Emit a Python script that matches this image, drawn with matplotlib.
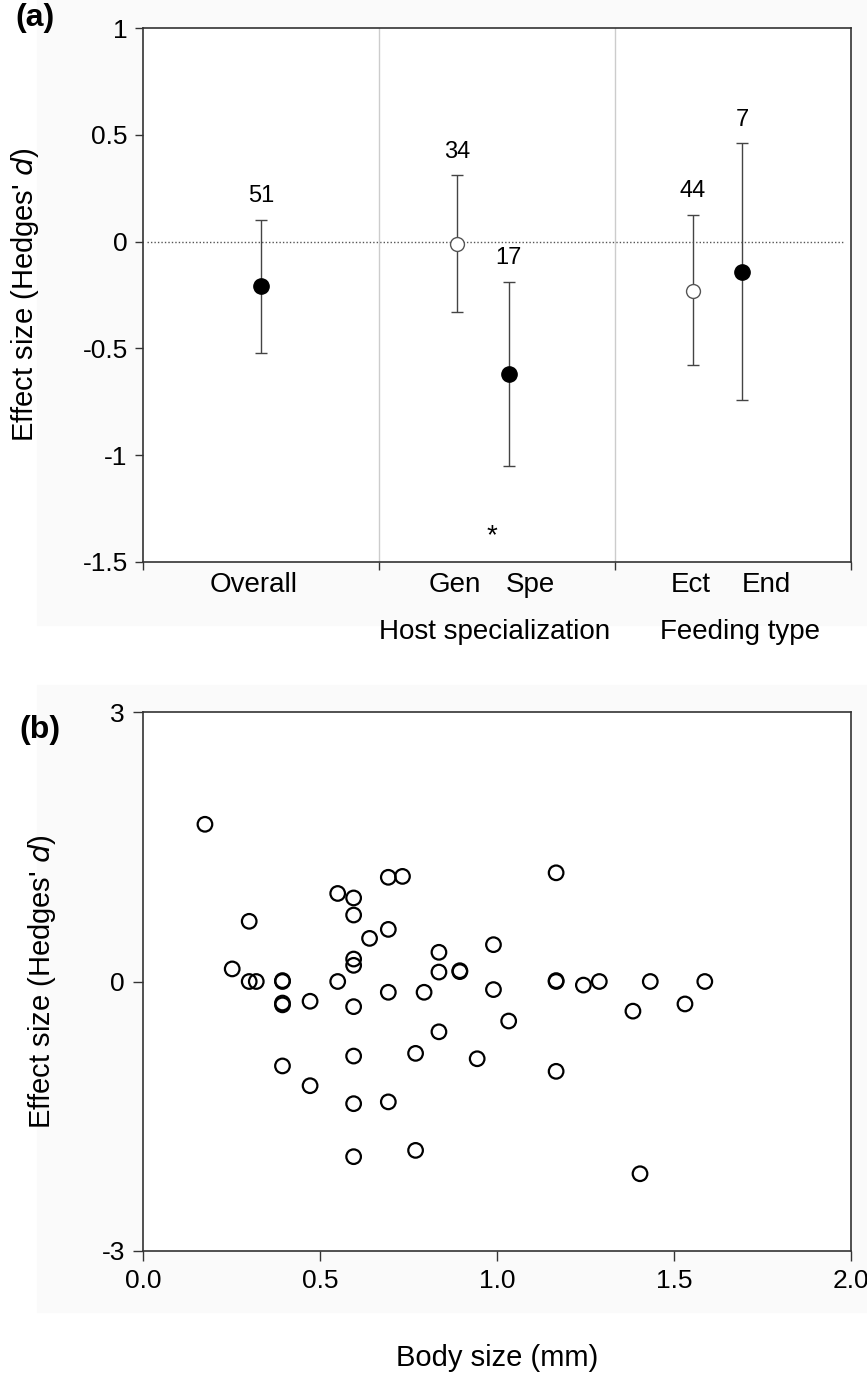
import matplotlib
matplotlib.use("Agg")
from matplotlib import pyplot
from matplotlib.patches import Rectangle

pyplot.rcParams["font.family"] = ["Liberation Sans", "DejaVu Sans"]

# panel (a): mean effect sizes with 95% CI
groups = ["Overall", "Gen", "Spe", "Ect", "End"]
group_x = [0.5, 1.33, 1.55, 2.33, 2.54]
means = [-0.21, -0.01, -0.62, -0.23, -0.14]
ci_upper = [0.10, 0.31, -0.19, 0.125, 0.46]
ci_lower = [-0.52, -0.33, -1.05, -0.58, -0.74]
n_studies = [51, 34, 17, 44, 7]
filled = [True, False, True, False, True]

# panel (b): effect size vs body size
body_size = [0.175, 0.693, 0.733, 0.55, 0.595, 0.595, 0.30, 0.693, 0.64, 0.99,
             0.836, 0.595, 0.595, 0.252, 0.836, 0.895, 0.895, 0.30, 0.32, 0.394,
             0.394, 0.55, 0.99, 0.693, 0.794, 0.394, 0.394, 0.472, 0.595, 0.836,
             0.77, 0.944, 0.595, 0.394, 0.472, 0.595, 0.693, 0.595, 0.77, 1.167,
             1.167, 1.167, 1.244, 1.289, 1.433, 1.587, 1.384, 1.531, 1.033, 1.167,
             1.404]
effect_size = [1.75, 1.16, 1.17, 0.98, 0.93, 0.74, 0.67, 0.58, 0.48, 0.41,
               0.325, 0.25, 0.18, 0.14, 0.105, 0.12, 0.11, 0.0, 0.0, 0.0,
               0.01, 0.0, -0.09, -0.12, -0.12, -0.24, -0.26, -0.22, -0.28, -0.56,
               -0.80, -0.86, -0.83, -0.94, -1.16, -1.36, -1.34, -1.95, -1.88, 1.21,
               0.0, 0.01, -0.04, 0.0, 0.0, 0.0, -0.33, -0.25, -0.44, -1.0,
               -2.14]

fig = pyplot.figure(figsize=(8.67, 13.76), dpi=100)

# faint panel backgrounds
fig.patches.append(Rectangle((37 / 867, 1 - 625 / 1376), 830 / 867, 625 / 1376,
                             transform=fig.transFigure, color="#fafafa", zorder=-10))
fig.patches.append(Rectangle((37 / 867, 1 - 1312 / 1376), 830 / 867, 627 / 1376,
                             transform=fig.transFigure, color="#fafafa", zorder=-10))

# ---- panel (a)
ax = fig.add_axes([143 / 867, 1 - 562 / 1376, 708 / 867, 534 / 1376])
ax.set_facecolor("white")
ax.axhline(0, color="#555555", linestyle=(0, (1, 1.5)), linewidth=1, xmin=0.005, xmax=0.99)
for xv in [1, 2]:
    ax.axvline(xv, color="#cccccc", linewidth=1)
for i in range(len(groups)):
    ax.errorbar(group_x[i], means[i],
                yerr=[[means[i] - ci_lower[i]], [ci_upper[i] - means[i]]],
                fmt="o", color="#333333", ecolor="#444444", elinewidth=1, capsize=4,
                markersize=11 if filled[i] else 10,
                markerfacecolor="black" if filled[i] else "white",
                markeredgecolor="black" if filled[i] else "#555555", zorder=3)
    ax.text(group_x[i], ci_upper[i] + 0.06, str(n_studies[i]), ha="center", va="bottom", fontsize=17)
ax.text(1.48, -1.38, "*", ha="center", va="center", fontsize=20)

ax.set_xlim(0, 3)
ax.set_ylim(-1.5, 1)
ax.set_yticks([-1.5, -1, -0.5, 0, 0.5, 1])
ax.set_yticklabels(["-1.5", "-1", "-0.5", "0", "0.5", "1"], fontsize=19)
ax.set_xticks([0, 1, 2, 3])
ax.set_xticklabels([])
ax.tick_params(direction="out", length=6, width=1, color="#333333", pad=5)
for s in ax.spines.values():
    s.set_color("#333333")
    s.set_linewidth(1.2)
ax.set_ylabel("Effect size (Hedges' $\\mathit{d}$)", fontsize=21)
ax.yaxis.set_label_coords((41 - 143) / 708, 0.5)

cat_labels = [(0.47, "Overall"), (1.32, "Gen"), (1.64, "Spe"), (2.32, "Ect"), (2.64, "End")]
for xv, lab in cat_labels:
    ax.text(xv, -1.61, lab, ha="center", va="center", fontsize=20)
ax.text(1.49, -1.83, "Host specialization", ha="center", va="center", fontsize=20)
ax.text(2.53, -1.83, "Feeding type", ha="center", va="center", fontsize=20)
fig.text(35 / 867, 1 - 18 / 1376, "(a)", fontsize=23, fontweight="bold", ha="center", va="center")

# ---- panel (b)
bx = fig.add_axes([143 / 867, 1 - 1251 / 1376, 708 / 867, 539 / 1376])
bx.set_facecolor("white")
bx.scatter(body_size, effect_size, s=110, facecolors="none", edgecolors="black", linewidths=1.6, zorder=3)
bx.set_xlim(0, 2)
bx.set_ylim(-3, 3)
bx.set_yticks([-3, 0, 3])
bx.set_yticklabels(["-3", "0", "3"], fontsize=19)
bx.set_xticks([0, 0.5, 1.0, 1.5, 2.0])
bx.set_xticklabels(["0.0", "0.5", "1.0", "1.5", "2.0"], fontsize=19)
bx.tick_params(direction="out", length=7, width=1, color="#333333", pad=6)
for s in bx.spines.values():
    s.set_color("#333333")
    s.set_linewidth(1.2)
bx.set_ylabel("Effect size (Hedges' $\\mathit{d}$)", fontsize=21)
bx.yaxis.set_label_coords((58 - 143) / 708, 0.5)
fig.text(497 / 867, 1 - 1358 / 1376, "Body size (mm)", fontsize=21, ha="center", va="center")
fig.text(40 / 867, 1 - 730 / 1376, "(b)", fontsize=23, fontweight="bold", ha="center", va="center")

fig.savefig("out.png", dpi=100)
